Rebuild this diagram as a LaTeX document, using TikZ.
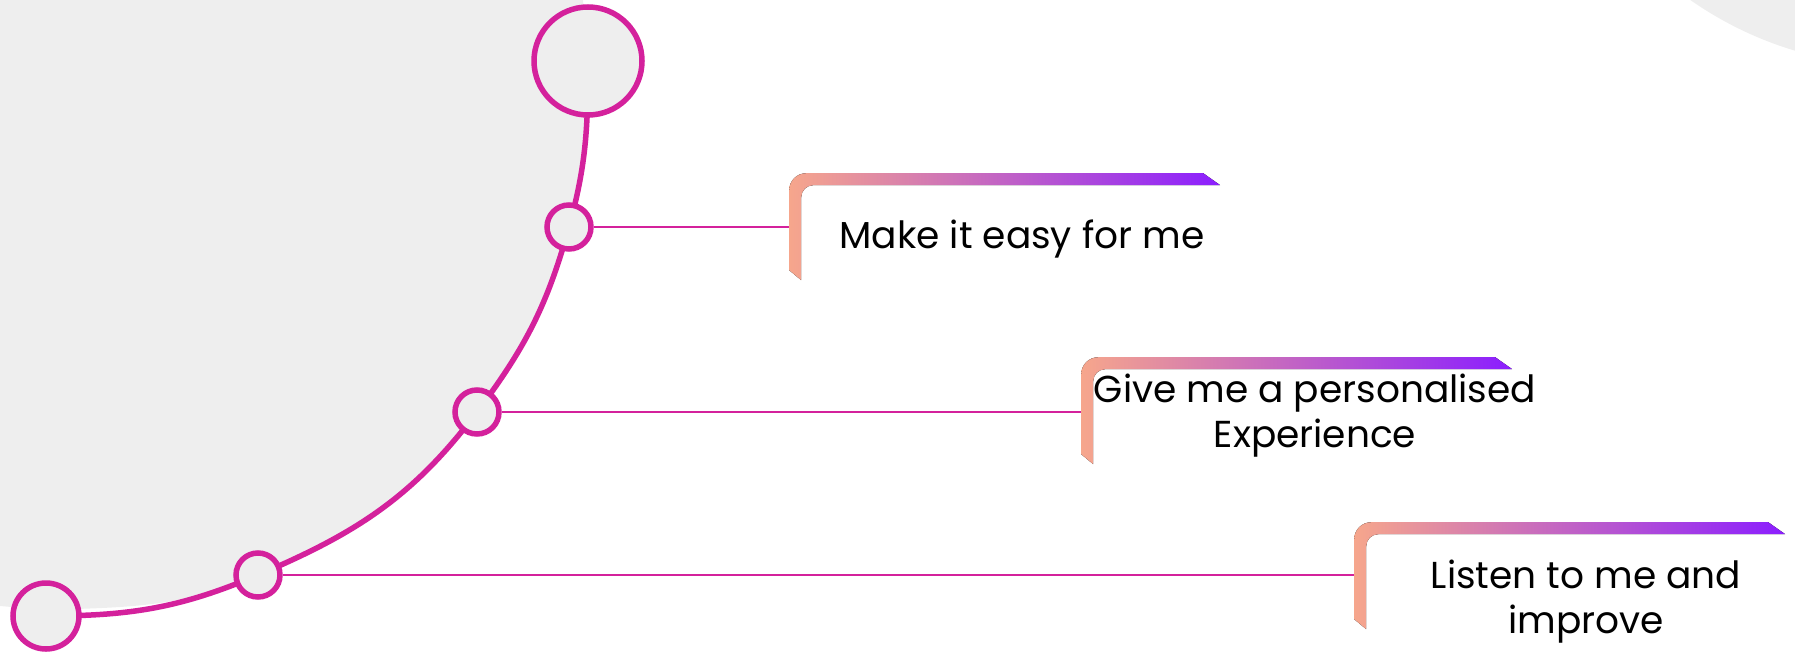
\documentclass[tikz,border=0pt]{standalone}
\usepackage{fontspec}
\setmainfont{Poppins}
\usepackage{tikz}
\usetikzlibrary{positioning,backgrounds}

\definecolor{magline}{HTML}{D4219C}
\definecolor{bggray}{HTML}{EEEEEE}
\definecolor{rpeach}{HTML}{F6A68C}
\definecolor{rmid}{HTML}{D486C6}
\definecolor{rpurple}{HTML}{8B1EFF}

\begin{document}
\begin{tikzpicture}[x=1pt,y=1pt,
  dot/.style={circle,draw=magline,line width=5.5pt,fill=bggray,inner sep=0pt,minimum size=44pt},
  bigdot/.style={dot,minimum size=#1},
  track/.style={draw=magline,line width=5.5pt},
  link/.style={draw=magline,line width=1.8pt},
  ribbon/.style={minimum width=431pt,minimum height=107pt,inner sep=0pt,anchor=north west,
    path picture={\fill[left color=rpeach,middle color=rmid,right color=rpurple]
      ([shift={(0,-97)}]path picture bounding box.north west) -- ++(0,80)
      arc[start angle=180,end angle=90,radius=17] -- ++(397,0) -- ++(17,-12) -- ++(-407,0)
      arc[start angle=90,end angle=180,radius=12] -- ++(0,-83) -- ++(-12,10) -- cycle;}},
  wish/.style={anchor=base,align=center,font=\fontsize{37.5}{45}\selectfont}]
\useasboundingbox (0,0) rectangle (1795,-653);
% milestones
\node[bigdot=108pt] (start) at (588,-61) {};
\node[dot] (dot1) at (569,-227) {};
\node[dot] (dot2) at (477,-412) {};
\node[dot] (dot3) at (258,-575) {};
\node[bigdot=66pt] (finish) at (46,-616) {};
\begin{scope}[on background layer]
\clip (0,0) rectangle (1795,-653);
\fill[bggray] (0,0) -- (583,0) -- (start.center) to[out=-90,in=74.5] (dot1.center)
  to[out=-105.5,in=53] (dot2.center) to[out=-127,in=23] (dot3.center)
  to[out=-157,in=2] ([yshift=6]finish.center) -- (0,-606) -- cycle;
\fill[bggray] (1900,300) circle (366);
\draw[track] (start.center) to[out=-90,in=74.5] (dot1.center)
  to[out=-105.5,in=53] (dot2.center) to[out=-127,in=23] (dot3.center)
  to[out=-157,in=0] (finish.center);
\end{scope}
% ribbons and texts
\node[ribbon] (easy) at (789,-173) {};
\node[ribbon] (personal) at (1081,-357) {};
\node[ribbon] (listen) at (1354,-522) {};
\node[wish] (easytxt) at (1022,-248) {Make it easy for me};
\node[wish] (personaltxt) at (1315,-447) {Give me a personalised\\Experience};
\node[wish] (listentxt) at (1586,-633) {Listen to me and\\improve};
\draw[link] (dot1) -- (dot1 -| easy.west);
\draw[link] (dot2) -- (dot2 -| personal.west);
\draw[link] (dot3) -- (dot3 -| listen.west);
\end{tikzpicture}
\end{document}
